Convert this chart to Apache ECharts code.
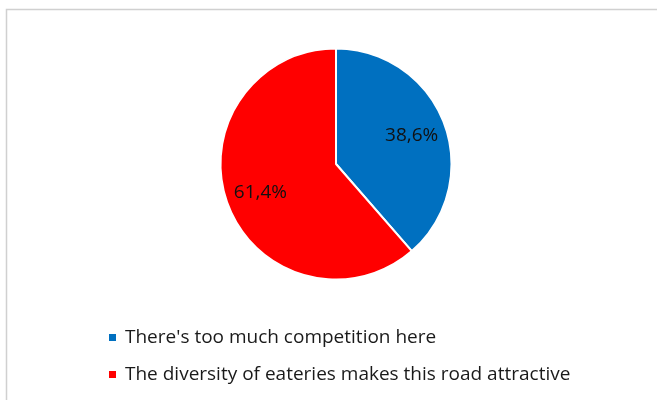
<!DOCTYPE html>
<html>
<head>
<meta charset="utf-8">
<script src="https://cdn.jsdelivr.net/npm/echarts@6/dist/echarts.min.js"></script>
<style>html,body{margin:0;padding:0;background:#fff;}#c{width:657px;height:400px;}</style>
</head>
<body>
<div id="c"></div>
<script>
const categories = ["There's too much competition here", "The diversity of eateries makes this road attractive"];
const values = [38.6, 61.4];
const colors = ['#0070C0', '#FF0000'];

const data = categories.map((name, i) => ({ name, value: values[i], itemStyle: { color: colors[i] } }));
const fmt = p => p.value.toFixed(1).replace('.', ',') + '%';

const chart = echarts.init(document.getElementById('c'), null, { renderer: 'canvas' });
chart.setOption({
  animation: false,
  backgroundColor: '#ffffff',
  graphic: [{
    type: 'rect', left: 4, top: 7, shape: { width: 720, height: 460 },
    style: { fill: 'none', stroke: '#d0d0d0', lineWidth: 1.5 }, silent: true, z: -10
  }],
  legend: {
    orient: 'vertical', left: 107, top: 327, padding: 0,
    itemWidth: 9, itemHeight: 9, itemGap: 16, icon: 'rect',
    textStyle: { fontFamily: 'Open Sans', fontSize: 19, color: '#1a1a1a', lineHeight: 21, padding: [0, 0, 0, 3] },
    data: categories
  },
  series: [{
    type: 'pie', center: [336, 164], radius: [0, 115.5], startAngle: 90, clockwise: true,
    data: data,
    itemStyle: { borderColor: '#ffffff', borderWidth: 2 },
    label: { show: false }, labelLine: { show: false }, emphasis: { disabled: true }
  }, {
    type: 'pie', center: [336, 164], radius: [40, 115.5], startAngle: 90, clockwise: true,
    data: data.map(d => ({ name: d.name, value: d.value })),
    itemStyle: { color: 'rgba(0,0,0,0)' },
    label: { show: true, position: 'inside', formatter: fmt, fontFamily: 'Open Sans', fontSize: 19, color: '#111111' },
    labelLine: { show: false }, silent: true, emphasis: { disabled: true }, tooltip: { show: false }
  }]
});
</script>
</body>
</html>
